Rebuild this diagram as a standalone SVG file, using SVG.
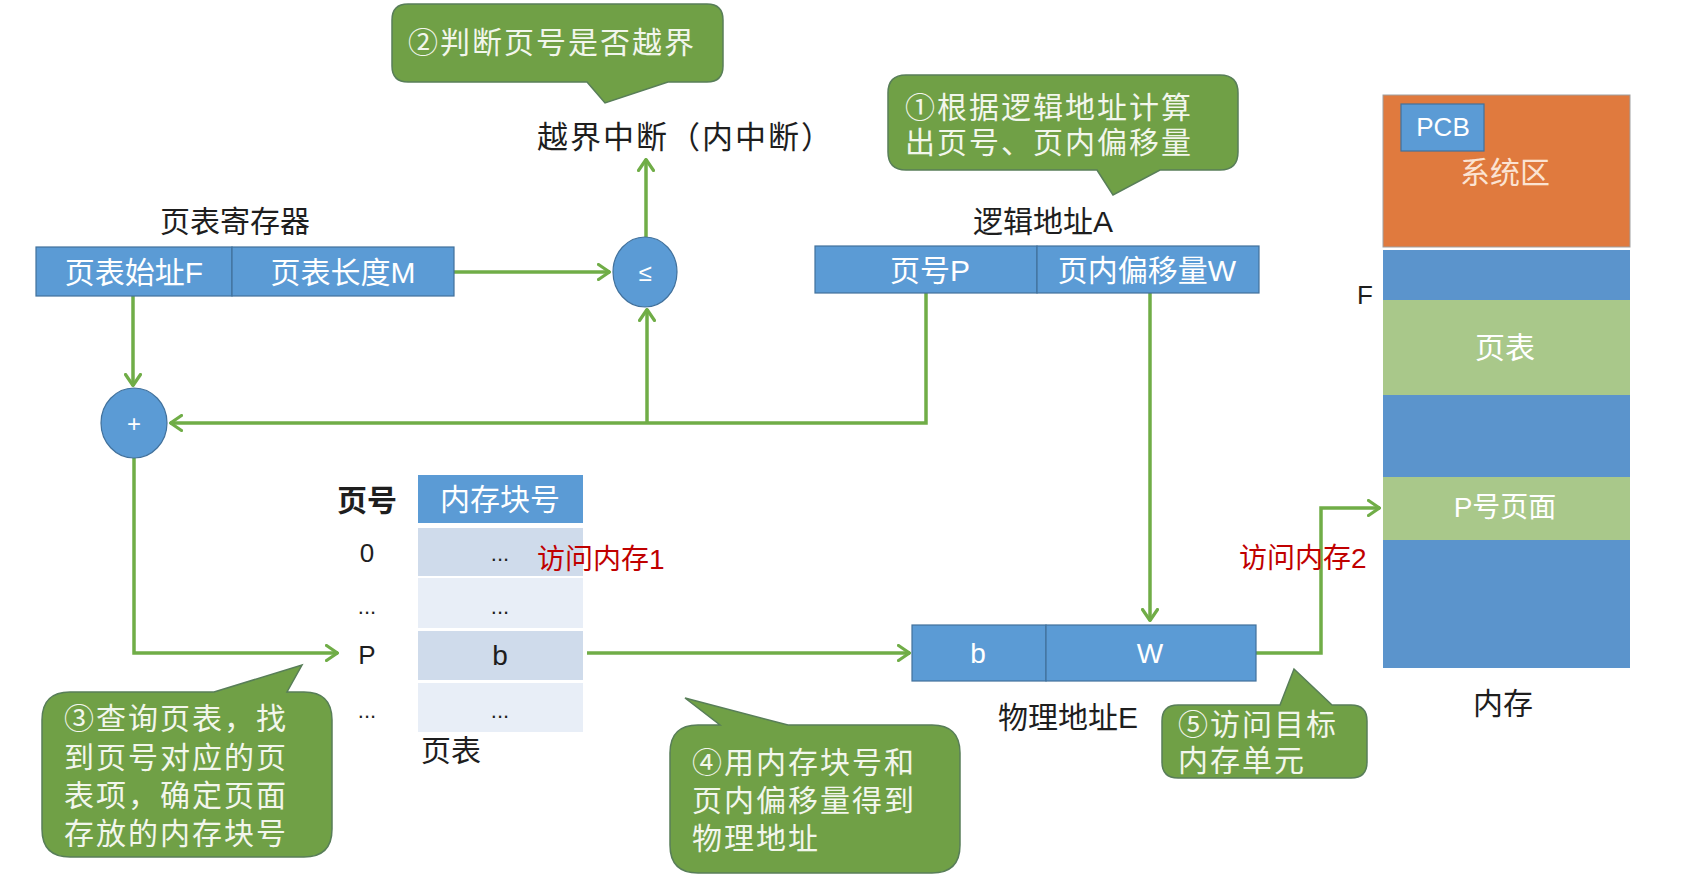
<svg xmlns="http://www.w3.org/2000/svg" width="1703" height="891" viewBox="0 0 1703 891">
<defs>
<style>
.t{font-family:"Liberation Sans","Noto Sans CJK SC",sans-serif;dominant-baseline:central;}
.blk{fill:#1e1e1e;font-size:30px;}
.wht{fill:#ffffff;font-size:30px;}
.call{fill:#f2f6ec;font-size:30px;letter-spacing:2px;}
.red{fill:#c00000;font-size:28px;}
.box{fill:#5b9bd5;stroke:#41719c;stroke-width:1.2;}
.callout{fill:#70a046;stroke:#587e58;stroke-width:1.5;}
.con{fill:none;stroke:#70ad47;stroke-width:3.5;}
.mid{text-anchor:middle;}
</style>
<marker id="ah" viewBox="0 0 14 18" refX="13" refY="9" markerWidth="14" markerHeight="18" markerUnits="userSpaceOnUse" orient="auto">
<path d="M1.5,1.5 L12.5,9 L1.5,16.5" fill="none" stroke="#70ad47" stroke-width="3.2" stroke-linecap="round" stroke-linejoin="round"/>
</marker>
</defs>
<rect width="1703" height="891" fill="#ffffff"/>

<g id="connectors">
<path class="con" d="M133,296 V386" marker-end="url(#ah)"/>
<path class="con" d="M454,272 H610" marker-end="url(#ah)"/>
<path class="con" d="M646,237 V159" marker-end="url(#ah)"/>
<path class="con" d="M926,293 V423 H170" marker-end="url(#ah)"/>
<path class="con" d="M647,423 V309" marker-end="url(#ah)"/>
<path class="con" d="M134,458 V653 H338" marker-end="url(#ah)"/>
<path class="con" d="M587,653 H910" marker-end="url(#ah)"/>
<path class="con" d="M1150,293 V621" marker-end="url(#ah)"/>
<path class="con" d="M1256,653 H1321 V508 H1380" marker-end="url(#ah)"/>
</g>

<g id="callout2">
<path class="callout" d="M408,4 H707 Q723,4 723,20 V66 Q723,82 707,82 H668 L605,103 L587,82 H408 Q392,82 392,66 V20 Q392,4 408,4 Z"/>
<text class="t call" x="408" y="42">②判断页号是否越界</text>
</g>

<g id="interrupt">
<text class="t blk" x="537" y="137" style="font-size:31px;letter-spacing:2px">越界中断（内中断）</text>
</g>

<g id="callout1">
<path class="callout" d="M906,75 H1220 Q1238,75 1238,93 V152 Q1238,170 1220,170 H1160 L1113,195 L1097,170 H906 Q888,170 888,152 V93 Q888,75 906,75 Z"/>
<text class="t call" x="905" y="107">①根据逻辑地址计算</text>
<text class="t call" x="905" y="142">出页号、页内偏移量</text>
</g>

<g id="page-table-register">
<text class="t blk mid" x="235" y="221">页表寄存器</text>
<rect class="box" x="36" y="247" width="196" height="49"/>
<rect class="box" x="232" y="247" width="222" height="49"/>
<text class="t wht mid" x="134" y="272">页表始址F</text>
<text class="t wht mid" x="343" y="272">页表长度M</text>
</g>

<g id="compare">
<ellipse class="box" cx="645" cy="272" rx="32" ry="35"/>
<text class="t wht mid" x="645" y="272" style="font-size:24px">≤</text>
</g>

<g id="adder">
<ellipse class="box" cx="134" cy="423" rx="33" ry="35"/>
<text class="t wht mid" x="134" y="423" style="font-size:24px">+</text>
</g>

<g id="logical-address">
<text class="t blk mid" x="1043" y="221">逻辑地址A</text>
<rect class="box" x="815" y="246" width="222" height="47"/>
<rect class="box" x="1037" y="246" width="222" height="47"/>
<text class="t wht mid" x="930" y="270">页号P</text>
<text class="t wht mid" x="1147" y="270">页内偏移量W</text>
</g>

<g id="page-table">
<text class="t blk mid" x="367" y="500" style="font-weight:bold">页号</text>
<rect x="418" y="475" width="165" height="48" fill="#5b9bd5"/>
<text class="t wht mid" x="500" y="499">内存块号</text>
<rect x="418" y="528" width="165" height="48" fill="#cfdbeb"/>
<rect x="418" y="578" width="165" height="50" fill="#e8eef7"/>
<rect x="418" y="631" width="165" height="49" fill="#cfdbeb"/>
<rect x="418" y="683" width="165" height="49" fill="#e8eef7"/>
<text class="t blk mid" x="367" y="553" style="font-size:26px">0</text>
<text class="t blk mid" x="367" y="606" style="font-size:22px">...</text>
<text class="t blk mid" x="367" y="655" style="font-size:26px">P</text>
<text class="t blk mid" x="367" y="710" style="font-size:22px">...</text>
<text class="t blk mid" x="500" y="553" style="font-size:22px">...</text>
<text class="t blk mid" x="500" y="606" style="font-size:22px">...</text>
<text class="t blk mid" x="500" y="655" style="font-size:28px">b</text>
<text class="t blk mid" x="500" y="710" style="font-size:22px">...</text>
<text class="t blk mid" x="451" y="750">页表</text>
<text class="t red" x="537" y="559">访问内存1</text>
</g>

<g id="callout3">
<path class="callout" d="M70,692 H214 L302,665 L287,692 H304 Q332,692 332,720 V829 Q332,857 304,857 H70 Q42,857 42,829 V720 Q42,692 70,692 Z"/>
<text class="t call" x="64" y="718">③查询页表，找</text>
<text class="t call" x="64" y="757">到页号对应的页</text>
<text class="t call" x="64" y="795">表项，确定页面</text>
<text class="t call" x="64" y="833">存放的内存块号</text>
</g>

<g id="callout4">
<path class="callout" d="M698,725 H720 L685,698 L788,725 H932 Q960,725 960,753 V845 Q960,873 932,873 H698 Q670,873 670,845 V753 Q670,725 698,725 Z"/>
<text class="t call" x="692" y="762">④用内存块号和</text>
<text class="t call" x="692" y="800">页内偏移量得到</text>
<text class="t call" x="692" y="838">物理地址</text>
</g>

<g id="physical-address">
<rect class="box" x="912" y="625" width="134" height="56"/>
<rect class="box" x="1046" y="625" width="210" height="56"/>
<text class="t wht mid" x="978" y="653" style="font-size:28px">b</text>
<text class="t wht mid" x="1150" y="653" style="font-size:28px">W</text>
<text class="t blk mid" x="1068" y="717">物理地址E</text>
</g>

<g id="callout5">
<path class="callout" d="M1178,705 H1280 L1294,669 L1332,705 H1351 Q1367,705 1367,721 V762 Q1367,778 1351,778 H1178 Q1162,778 1162,762 V721 Q1162,705 1178,705 Z"/>
<text class="t call" x="1178" y="724">⑤访问目标</text>
<text class="t call" x="1178" y="760">内存单元</text>
</g>

<g id="access2">
<text class="t red" x="1239" y="558">访问内存2</text>
</g>

<g id="memory">
<rect x="1383" y="95" width="247" height="152" fill="#e07a3e" stroke="#a0a0a0" stroke-width="1"/>
<rect class="box" x="1401" y="104" width="83" height="47"/>
<text class="t wht mid" x="1443" y="127" style="font-size:26px">PCB</text>
<text class="t mid" x="1505" y="172" style="fill:#fbe3d2;font-size:30px">系统区</text>
<rect x="1383" y="250" width="247" height="50" fill="#5b94cc"/>
<rect x="1383" y="300" width="247" height="95" fill="#a9c88a"/>
<text class="t wht mid" x="1505" y="347">页表</text>
<rect x="1383" y="395" width="247" height="82" fill="#5b94cc"/>
<rect x="1383" y="477" width="247" height="63" fill="#a9c88a"/>
<text class="t wht mid" x="1505" y="507" style="font-size:28px">P号页面</text>
<rect x="1383" y="540" width="247" height="128" fill="#5b94cc"/>
<text class="t blk mid" x="1365" y="295" style="font-size:26px">F</text>
<text class="t blk mid" x="1503" y="703">内存</text>
</g>
</svg>
